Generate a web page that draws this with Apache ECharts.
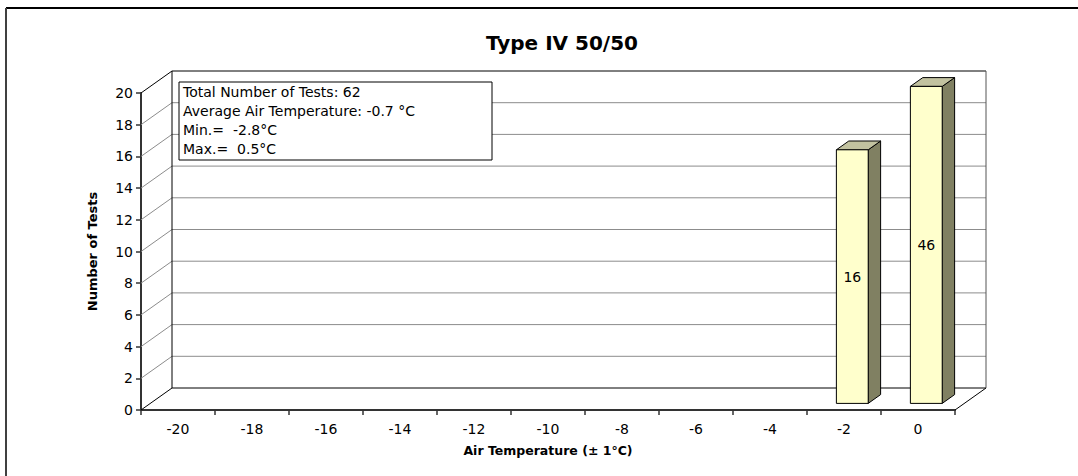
<!DOCTYPE html>
<html><head><meta charset="utf-8">
<script src="https://cdn.jsdelivr.net/npm/echarts@6/dist/echarts.min.js"></script>
<style>html,body{margin:0;padding:0;background:#fff}#c{width:1078px;height:476px}</style>
</head><body><div id="c"></div>
<script>
const categories = ['-20','-18','-16','-14','-12','-10','-8','-6','-4','-2','0'];
const testCounts = [0,0,0,0,0,0,0,0,0,16,46];
const yTicks = [0,2,4,6,8,10,12,14,16,18,20];
const infoLines = ['Total Number of Tests: 62','Average Air Temperature: -0.7 °C','Min.=  -2.8°C','Max.=  0.5°C'];
const titleText = 'Type IV 50/50';
const xName = 'Air Temperature (\u00b1 1°C)';
const yName = 'Number of Tests';

const Y_MIN = yTicks[0], Y_MAX = yTicks[yTicks.length - 1];
const DX = 31, DY = -22;
const FONT = 'DejaVu Sans, Verdana, sans-serif';

function renderWalls(params, api) {
  const n = categories.length;
  const cw = api.size([1, 0])[0];
  const x0 = api.coord([0, Y_MIN])[0] - cw / 2;
  const x1 = api.coord([n - 1, Y_MIN])[0] + cw / 2;
  const yB = api.coord([0, Y_MIN])[1];
  const yT = api.coord([0, Y_MAX])[1];
  const children = [];
  children.push({ type: 'polygon', shape: { points: [[x0 + DX, yT + DY], [x1 + DX, yT + DY], [x1 + DX, yB + DY], [x0 + DX, yB + DY]] },
    style: { fill: '#fff', stroke: null } });
  yTicks.forEach(t => {
    const y = api.coord([0, t])[1];
    const edge = (t === Y_MIN || t === Y_MAX);
    const col = edge ? '#000' : '#8c8c8c';
    children.push({ type: 'polyline', shape: { points: [[x0, y], [x0 + DX, y + DY], [x1 + DX, y + DY]] },
      style: { stroke: col, lineWidth: 1, fill: null } });
  });
  children.push({ type: 'line', shape: { x1: x0 + DX, y1: yT + DY, x2: x0 + DX, y2: yB + DY }, style: { stroke: '#000', lineWidth: 1 } });
  children.push({ type: 'line', shape: { x1: x1 + DX, y1: yT + DY, x2: x1 + DX, y2: yB + DY }, style: { stroke: '#555', lineWidth: 1 } });
  children.push({ type: 'line', shape: { x1: x1, y1: yB, x2: x1 + DX, y2: yB + DY }, style: { stroke: '#000', lineWidth: 1 } });
  return { type: 'group', children };
}

function renderBar(params, api) {
  const v = api.value(1);
  if (!(v > 0)) return;
  const idx = api.value(0);
  const vc = Math.min(v, Y_MAX);
  const b = api.coord([idx, Y_MIN]);
  const t = api.coord([idx, vc]);
  const cw = api.size([1, 0])[0];
  const bw = cw * 0.43;
  const f0 = 0.3, f1 = 0.7;
  const ox0 = DX * f0, oy0 = DY * f0;
  const d = DX * (f1 - f0), dy = DY * (f1 - f0);
  const xl = b[0] - bw / 2 + ox0 - 1;
  const yt = t[1] + oy0, yb = b[1] + oy0;
  const st = { stroke: '#000', lineWidth: 1 };
  return { type: 'group', children: [
    { type: 'polygon', shape: { points: [[xl + bw, yt], [xl + bw + d, yt + dy], [xl + bw + d, yb + dy], [xl + bw, yb]] }, style: Object.assign({ fill: '#808062' }, st) },
    { type: 'polygon', shape: { points: [[xl, yt], [xl + bw, yt], [xl + bw + d, yt + dy], [xl + d, yt + dy]] }, style: Object.assign({ fill: '#c2c2a0' }, st) },
    { type: 'rect', shape: { x: xl, y: yt, width: bw, height: yb - yt }, style: Object.assign({ fill: '#ffffcc' }, st) },
    { type: 'text', x: xl + bw / 2, y: (yt + yb) / 2, style: { text: String(v), fill: '#000', font: '14px ' + FONT, align: 'center', verticalAlign: 'middle' } }
  ] };
}

const BOX_X = 179, BOX_Y = 82;
const graphics = [
  { type: 'line', shape: { x1: 6, y1: 8, x2: 1078, y2: 8 }, style: { stroke: '#000', lineWidth: 2 } },
  { type: 'line', shape: { x1: 6, y1: 8, x2: 6, y2: 476 }, style: { stroke: '#404040', lineWidth: 2 } },
  { type: 'rect', z: 100, shape: { x: BOX_X, y: BOX_Y, width: 313, height: 78 }, style: { fill: '#fff', stroke: '#000', lineWidth: 1 } }
];
infoLines.forEach((s, i) => {
  graphics.push({ type: 'text', z: 101, x: BOX_X + 4, y: BOX_Y + 10 + i * 19,
    style: { text: s, fill: '#000', font: '14px ' + FONT, verticalAlign: 'middle', align: 'left' } });
});

const chart = echarts.init(document.getElementById('c'), null, { renderer: 'svg' });
chart.setOption({
  animation: false,
  backgroundColor: '#fff',
  title: { text: titleText, left: 481, top: 28, textStyle: { fontFamily: FONT, fontSize: 20, fontWeight: 'bold', color: '#000' } },
  grid: { left: 141, right: 123, top: 93, bottom: 66 },
  xAxis: {
    type: 'category', data: categories, boundaryGap: true,
    name: xName, nameLocation: 'middle', nameGap: 34,
    nameTextStyle: { fontFamily: FONT, fontSize: 12.5, fontWeight: 'bold', color: '#000' },
    axisLine: { lineStyle: { color: '#333', width: 2 } },
    axisTick: { show: true, length: 5, lineStyle: { color: '#333', width: 1.5 } },
    axisLabel: { fontFamily: FONT, fontSize: 14, color: '#000', margin: 12 },
    splitLine: { show: false }
  },
  yAxis: {
    type: 'value', min: Y_MIN, max: Y_MAX, interval: 2,
    name: yName, nameLocation: 'middle', nameGap: 42,
    nameTextStyle: { fontFamily: FONT, fontSize: 13, fontWeight: 'bold', color: '#000' },
    axisLine: { show: true, lineStyle: { color: '#333', width: 2 } },
    axisTick: { show: true, length: 5, lineStyle: { color: '#333', width: 1.5 } },
    axisLabel: { fontFamily: FONT, fontSize: 14, color: '#000', margin: 8 },
    splitLine: { show: false }
  },
  series: [
    { type: 'custom', name: 'walls', renderItem: renderWalls, data: [[0, 0]], clip: false, z: 1, silent: true },
    { type: 'custom', name: 'Number of Tests', renderItem: renderBar, data: testCounts.map((v, i) => [i, v]), clip: false, z: 3 }
  ],
  graphic: graphics
});
</script></body></html>
